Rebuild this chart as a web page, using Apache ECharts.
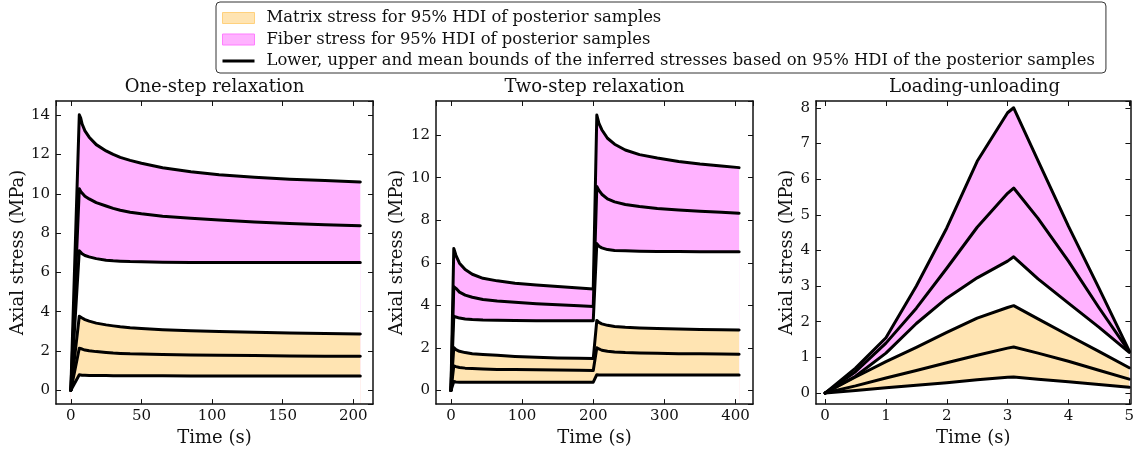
<!DOCTYPE html>
<html>
<head>
<meta charset="utf-8">
<title>Inferred stresses</title>
<script src="https://cdn.jsdelivr.net/npm/echarts@6/dist/echarts.min.js"></script>
<style>
  html, body { margin: 0; padding: 0; background: #fff; }
  #chart { width: 1137px; height: 452px; }
</style>
</head>
<body>
<div id="chart"></div>
<script>
// legend labels
const matrixName = "Matrix stress for 95% HDI of posterior samples";
const fiberName = "Fiber stress for 95% HDI of posterior samples";
const boundsName = "Lower, upper and mean bounds of the inferred stresses based on 95% HDI of the posterior samples";

const panelTitles = ["One-step relaxation", "Two-step relaxation", "Loading-unloading"];

// one-step relaxation (time in s, stress in MPa)
const oneTime = [0, 6, 7, 8, 10, 13, 18, 25, 30, 35, 42, 50, 65, 85, 105, 130, 155, 180, 205];
const oneMatrixLow = [0, 0.79, 0.78, 0.77, 0.77, 0.76, 0.75, 0.75, 0.74, 0.74, 0.74, 0.74, 0.74, 0.73, 0.73, 0.73, 0.73, 0.73, 0.73];
const oneMatrixMean = [0, 2.14, 2.12, 2.1, 2.05, 2.01, 1.97, 1.93, 1.9, 1.88, 1.86, 1.85, 1.82, 1.8, 1.78, 1.77, 1.75, 1.74, 1.73];
const oneMatrixUp = [0, 3.77, 3.72, 3.68, 3.6, 3.52, 3.42, 3.33, 3.28, 3.23, 3.18, 3.14, 3.08, 3.03, 2.99, 2.95, 2.92, 2.89, 2.87];
const oneFiberLow = [0, 7.1, 7.02, 6.95, 6.86, 6.79, 6.7, 6.62, 6.59, 6.57, 6.55, 6.54, 6.52, 6.51, 6.5, 6.5, 6.5, 6.5, 6.5];
const oneFiberMean = [0, 10.26, 10.12, 10.02, 9.88, 9.74, 9.55, 9.38, 9.26, 9.16, 9.06, 8.98, 8.86, 8.75, 8.66, 8.57, 8.49, 8.42, 8.37];
const oneFiberUp = [0, 14.02, 13.85, 13.55, 13.2, 12.88, 12.5, 12.18, 12.0, 11.85, 11.7, 11.55, 11.32, 11.12, 10.97, 10.84, 10.74, 10.67, 10.6];

// two-step relaxation
const twoTime = [0, 4, 7, 12, 20, 30, 45, 65, 90, 120, 150, 180, 200, 205, 208, 212, 220, 230, 245, 265, 290, 320, 350, 380, 405];
const twoMatrixLow = [0, 0.42, 0.4, 0.39, 0.39, 0.39, 0.39, 0.39, 0.39, 0.39, 0.39, 0.39, 0.39, 0.74, 0.73, 0.73, 0.73, 0.73, 0.73, 0.73, 0.73, 0.73, 0.73, 0.73, 0.73];
const twoMatrixMean = [0, 1.16, 1.12, 1.08, 1.05, 1.03, 1.01, 0.99, 0.98, 0.97, 0.96, 0.95, 0.94, 2.01, 1.95, 1.89, 1.84, 1.81, 1.78, 1.76, 1.75, 1.73, 1.72, 1.71, 1.7];
const twoMatrixUp = [0, 2.02, 1.92, 1.84, 1.78, 1.73, 1.69, 1.65, 1.6, 1.56, 1.53, 1.51, 1.5, 3.29, 3.2, 3.13, 3.06, 3.01, 2.97, 2.94, 2.91, 2.89, 2.87, 2.85, 2.84];
const twoFiberLow = [0, 3.49, 3.45, 3.4, 3.36, 3.33, 3.31, 3.3, 3.29, 3.28, 3.28, 3.28, 3.28, 6.9, 6.78, 6.7, 6.62, 6.58, 6.56, 6.54, 6.53, 6.53, 6.52, 6.52, 6.52];
const twoFiberMean = [0, 4.88, 4.8, 4.62, 4.48, 4.38, 4.27, 4.2, 4.14, 4.08, 4.03, 3.98, 3.95, 9.58, 9.4, 9.22, 9.0, 8.86, 8.74, 8.64, 8.55, 8.48, 8.42, 8.37, 8.33];
const twoFiberUp = [0, 6.67, 6.35, 5.98, 5.68, 5.46, 5.27, 5.15, 5.04, 4.96, 4.88, 4.82, 4.77, 12.94, 12.55, 12.25, 11.85, 11.57, 11.3, 11.08, 10.92, 10.76, 10.64, 10.55, 10.47];

// loading-unloading
const loadTime = [0, 0.5, 1, 1.5, 2, 2.5, 3, 3.1, 3.5, 4, 4.5, 5];
const loadMatrixLow = [0, 0.07, 0.15, 0.22, 0.29, 0.37, 0.44, 0.45, 0.39, 0.32, 0.24, 0.16];
const loadMatrixMean = [0, 0.2, 0.42, 0.63, 0.85, 1.06, 1.26, 1.29, 1.12, 0.89, 0.64, 0.39];
const loadMatrixUp = [0, 0.45, 0.88, 1.28, 1.7, 2.1, 2.4, 2.45, 2.08, 1.62, 1.17, 0.71];
const loadFiberLow = [0, 0.47, 1.12, 1.95, 2.66, 3.23, 3.7, 3.82, 3.2, 2.52, 1.85, 1.14];
const loadFiberMean = [0, 0.6, 1.4, 2.38, 3.5, 4.65, 5.6, 5.75, 4.9, 3.7, 2.4, 1.16];
const loadFiberUp = [0, 0.7, 1.55, 3.0, 4.63, 6.5, 7.86, 8.0, 6.52, 4.68, 2.95, 1.18];

const panelData = [
  { time: oneTime, mLow: oneMatrixLow, mMean: oneMatrixMean, mUp: oneMatrixUp, fLow: oneFiberLow, fMean: oneFiberMean, fUp: oneFiberUp },
  { time: twoTime, mLow: twoMatrixLow, mMean: twoMatrixMean, mUp: twoMatrixUp, fLow: twoFiberLow, fMean: twoFiberMean, fUp: twoFiberUp },
  { time: loadTime, mLow: loadMatrixLow, mMean: loadMatrixMean, mUp: loadMatrixUp, fLow: loadFiberLow, fMean: loadFiberMean, fUp: loadFiberUp }
];

// axis extents / layout per panel
const panelLayout = [
  { left: 56, xMin: -10.5, xMax: 214, xStep: 50, yMin: -0.7, yMax: 14.72, yStep: 2, yGap: 27 },
  { left: 436, xMin: -21, xMax: 424.5, xStep: 100, yMin: -0.64, yMax: 13.6, yStep: 2, yGap: 30 },
  { left: 816, xMin: -0.15, xMax: 5.02, xStep: 1, yMin: -0.31, yMax: 8.19, yStep: 1, yGap: 19 }
];

const font = "DejaVu Serif";
const ink = "#111";
const matrixFill = "#ffe4b2";
const fiberFill = "#ffb2ff";

function pairs(x, y) {
  return x.map((t, i) => [t, y[i]]);
}

// filled area down to the axis bottom; bands are made by painting the
// upper curve in colour and the lower curve in white on top of it
function areaSeries(i, x, y, color, name, z) {
  return {
    type: "line", name: name, xAxisIndex: i, yAxisIndex: i,
    data: pairs(x, y),
    symbol: "none", showSymbol: false, silent: true,
    lineStyle: { width: 0, opacity: 0 },
    itemStyle: { color: color },
    areaStyle: { color: color, opacity: 1, origin: "start" },
    z: z
  };
}
function lineSeries(i, x, y) {
  return {
    type: "line", name: boundsName, xAxisIndex: i, yAxisIndex: i,
    data: pairs(x, y),
    symbol: "none", showSymbol: false,
    lineStyle: { color: "#000", width: 3, join: "round", cap: "round" },
    itemStyle: { color: "#000" },
    z: 6
  };
}

const grids = [], xAxes = [], yAxes = [], titles = [], series = [];
const axisLine = { show: true, onZero: false, lineStyle: { color: ink, width: 1.5 } };
const axisTick = { show: true, inside: true, length: 5, lineStyle: { color: ink, width: 1 } };

panelLayout.forEach((p, i) => {
  grids.push({ left: p.left, top: 101, width: 317, height: 306 });
  titles.push({
    text: panelTitles[i],
    left: p.left + 158.5,
    top: 78,
    padding: 0,
    textAlign: "center",
    textStyle: { fontFamily: font, fontSize: 18, fontWeight: "normal", color: ink }
  });
  const xBase = { type: "value", gridIndex: i, min: p.xMin, max: p.xMax, minInterval: p.xStep, maxInterval: p.xStep,
    axisLine, axisTick, splitLine: { show: false }, z: 5 };
  const yBase = { type: "value", gridIndex: i, min: p.yMin, max: p.yMax, minInterval: p.yStep, maxInterval: p.yStep,
    axisLine, axisTick, splitLine: { show: false }, z: 5 };
  xAxes[i] = Object.assign({}, xBase, {
    position: "bottom",
    name: "Time (s)", nameLocation: "middle", nameGap: 20,
    nameTextStyle: { fontFamily: font, fontSize: 18, color: ink },
    axisLabel: { showMinLabel: false, showMaxLabel: false, margin: 5, fontFamily: font, fontSize: 15, color: ink }
  });
  xAxes[i + 3] = Object.assign({}, xBase, { position: "top", axisLabel: { show: false } });
  yAxes[i] = Object.assign({}, yBase, {
    position: "left",
    name: "Axial stress (MPa)", nameLocation: "middle", nameGap: p.yGap,
    nameTextStyle: { fontFamily: font, fontSize: 18, color: ink },
    axisLabel: { showMinLabel: false, showMaxLabel: false, margin: 6, fontFamily: font, fontSize: 15, color: ink }
  });
  yAxes[i + 3] = Object.assign({}, yBase, { position: "right", axisLabel: { show: false } });

  const d = panelData[i];
  // fiber band sits above the matrix band everywhere, so paint top-down
  series.push(
    areaSeries(i, d.time, d.fUp, fiberFill, fiberName, 1),
    areaSeries(i, d.time, d.fLow, "#fff", fiberName, 2),
    areaSeries(i, d.time, d.mUp, matrixFill, matrixName, 3),
    areaSeries(i, d.time, d.mLow, "#fff", matrixName, 4)
  );
  [d.fLow, d.fMean, d.fUp, d.mLow, d.mMean, d.mUp].forEach(y => series.push(lineSeries(i, d.time, y)));
});

const chart = echarts.init(document.getElementById("chart"));
chart.setOption({
  animation: false,
  backgroundColor: "#fff",
  title: titles,
  legend: {
    orient: "vertical",
    left: 216,
    top: 2,
    padding: [7, 11, 3, 6],
    itemWidth: 32,
    itemHeight: 11,
    itemGap: 3.5,
    borderColor: "#333",
    borderWidth: 1,
    borderRadius: 4,
    selectedMode: false,
    textStyle: { fontFamily: font, fontSize: 16.4, color: ink, lineHeight: 18, padding: [0, 0, 0, 7] },
    data: [
      { name: matrixName, icon: "rect", itemStyle: { color: matrixFill, borderColor: "#ffd17d", borderWidth: 1 } },
      { name: fiberName, icon: "rect", itemStyle: { color: fiberFill, borderColor: "#ff7dff", borderWidth: 1 } },
      { name: boundsName, icon: "path://M0 0H32V3H0Z", itemStyle: { color: "#000", borderWidth: 0 } }
    ]
  },
  grid: grids,
  xAxis: xAxes,
  yAxis: yAxes,
  series: series
});
</script>
</body>
</html>
